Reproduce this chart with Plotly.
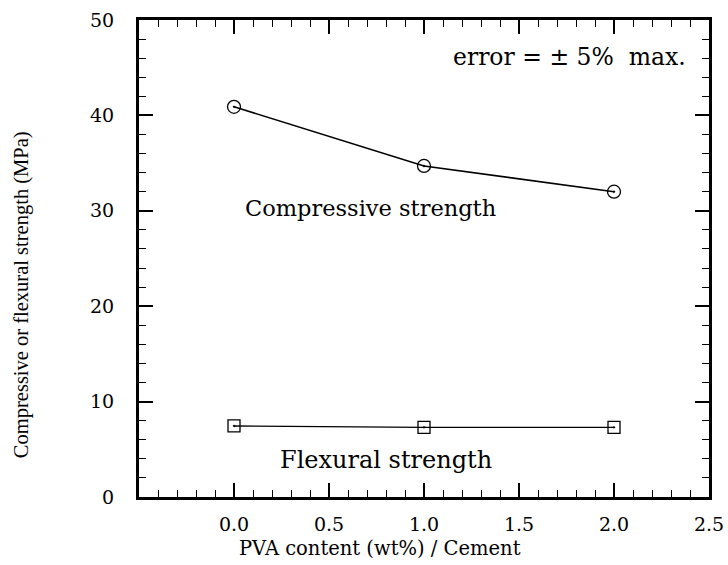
import plotly.graph_objects as go

pva = [0.0, 1.0, 2.0]
compressive = [40.9, 34.7, 32.0]
flexural = [7.45, 7.3, 7.3]
x_ticks = [0.0, 0.5, 1.0, 1.5, 2.0, 2.5]
x_tick_text = ["0.0", "0.5", "1.0", "1.5", "2.0", "2.5"]
y_ticks = [0, 10, 20, 30, 40, 50]

FONT = "DejaVu Serif"
YFONT = "Liberation Serif"

fig = go.Figure()
fig.add_trace(go.Scatter(
    x=pva, y=compressive, mode="lines+markers",
    line=dict(color="black", width=1.6),
    marker=dict(symbol="circle-open-dot", size=13, color="black", line=dict(width=1.3)),
    showlegend=False, hoverinfo="skip"))
fig.add_trace(go.Scatter(
    x=pva, y=flexural, mode="lines+markers",
    line=dict(color="black", width=1.4),
    marker=dict(symbol="square-open-dot", size=12, color="black", line=dict(width=1.3)),
    showlegend=False, hoverinfo="skip"))

axis_common = dict(
    showline=True, linecolor="black", linewidth=3, mirror="allticks",
    ticks="inside", ticklen=14, tickwidth=1.5, tickcolor="black",
    showgrid=False, zeroline=False, automargin=False,
    tickfont=dict(family=FONT, size=19, color="black"),
)

fig.update_xaxes(
    range=[-0.5, 2.5], tickvals=x_ticks, ticktext=x_tick_text,
    ticklabelstandoff=8,
    minor=dict(dtick=0.1, tick0=0, ticks="inside", ticklen=7, tickwidth=1.2, tickcolor="black"),
    **axis_common)
fig.update_yaxes(
    range=[0, 50], tickvals=y_ticks,
    ticklabelstandoff=18,
    minor=dict(dtick=2, tick0=0, ticks="inside", ticklen=7, tickwidth=1.2, tickcolor="black"),
    **axis_common)

NB = "\u00a0"
ann = [
    dict(text="error" + NB + "=" + NB + "±" + NB + "5%" + NB * 2 + "max.", x=1.767, y=46.1, size=23.5),
    dict(text="Compressive strength", x=0.72, y=30.3, size=22.5),
    dict(text="Flexural strength", x=0.80, y=3.9, size=24),
]
for a in ann:
    fig.add_annotation(text=a["text"], x=a["x"], y=a["y"], xref="x", yref="y",
                       showarrow=False, xanchor="center", yanchor="middle",
                       font=dict(family=FONT, size=a["size"], color="black"))

fig.add_annotation(text="PVA content (wt%) / Cement", x=0.423, y=-0.109,
                   xref="paper", yref="paper", showarrow=False,
                   xanchor="center", yanchor="middle",
                   font=dict(family=FONT, size=19.5, color="black"))
fig.add_annotation(text="Compressive or flexural strength (MPa)", x=-0.205, y=0.4235,
                   xref="paper", yref="paper", showarrow=False, textangle=-90,
                   xanchor="center", yanchor="middle",
                   font=dict(family=YFONT, size=20.5, color="black"))

fig.update_layout(
    width=728, height=565,
    margin=dict(l=139, r=19, t=20, b=68),
    paper_bgcolor="white", plot_bgcolor="white",
)

fig.write_html("out.html", config={"displayModeBar": False},
               post_script="document.body.style.margin='0';document.body.style.overflow='hidden';")
